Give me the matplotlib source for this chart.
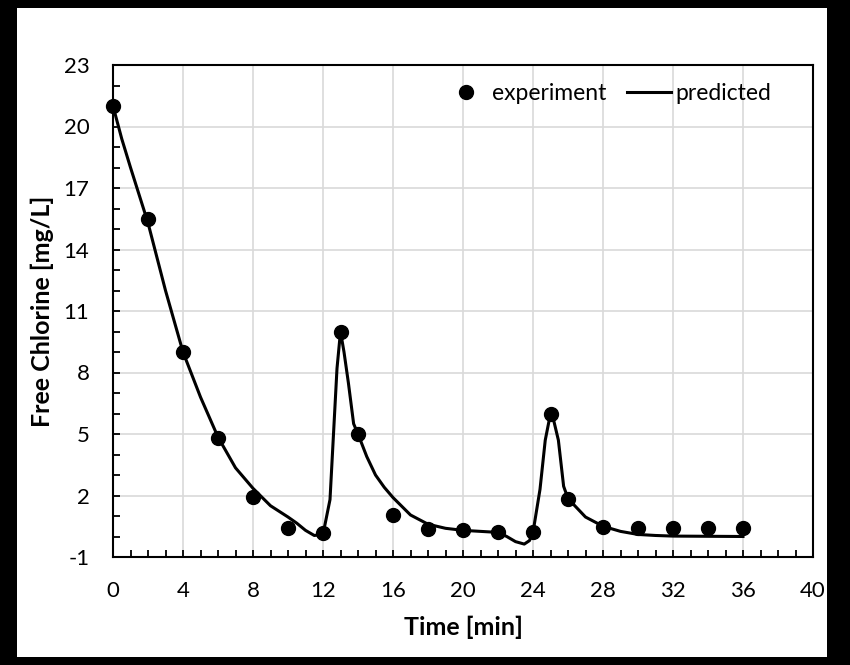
import numpy as np
import matplotlib
matplotlib.use("Agg")
import matplotlib.pyplot as plt
from matplotlib.patches import Rectangle
from matplotlib.ticker import MultipleLocator

plt.rcParams['font.family'] = ['Lato', 'DejaVu Sans']
plt.rcParams['axes.unicode_minus'] = False

# measured free chlorine
exp_time = [0, 2, 4, 6, 8, 10, 12, 13, 14, 16, 18, 20, 22, 24, 25, 26, 28, 30, 32, 34, 36]
exp_cl = [21.0, 15.5, 9.0, 4.8, 1.95, 0.4, 0.15, 10.0, 5.0, 1.05, 0.35, 0.3, 0.23, 0.23,
          6.0, 1.83, 0.48, 0.4, 0.4, 0.4, 0.4]

# model curve
pred_time = [0, 0.5, 1, 2, 3, 4, 5, 6, 7, 8, 9, 10, 10.5, 11, 11.5, 12,
             12.4, 12.6, 12.8, 13, 13.2, 13.45, 13.75, 14, 14.5, 15, 15.5, 16, 17, 18, 19,
             20, 21, 22, 22.5, 23, 23.5, 23.8, 24, 24.4, 24.7, 25, 25.2, 25.45, 25.75, 26,
             27, 28, 29, 30, 31, 32, 36]
pred_cl = [21.0, 19.4, 18.0, 15.3, 12.0, 9.0, 6.8, 4.85, 3.35, 2.35, 1.5, 0.95, 0.65, 0.3, 0.05, 0.1,
           1.8, 5.0, 8.2, 10.0, 9.0, 7.5, 5.5, 5.0, 3.9, 3.0, 2.4, 1.9, 1.05, 0.6, 0.4,
           0.3, 0.25, 0.2, 0.0, -0.25, -0.37, -0.2, 0.2, 2.3, 4.7, 6.0, 5.6, 4.7, 2.45, 1.85,
           0.95, 0.5, 0.25, 0.1, 0.05, 0.02, 0.0]

x_ticks = list(range(0, 41, 4))
y_ticks = list(range(-1, 24, 3))

fig = plt.figure(figsize=(8.5, 6.65), dpi=100)
fig.patch.set_facecolor('black')
# white area inside the thick black frame
W, H = 850, 665
fig.patches.append(Rectangle((17 / W, 8 / H), (827 - 17) / W, (657 - 8) / H,
                             transform=fig.transFigure, facecolor='white',
                             edgecolor='none', zorder=-1))

ax = fig.add_axes([113 / W, 1 - 557 / H, 700 / W, 492 / H])
ax.plot(pred_time, pred_cl, color='black', lw=2.2, label='predicted', zorder=3,
        solid_joinstyle='round')
ax.plot(exp_time, exp_cl, 'o', color='black', ms=10, label='experiment', zorder=4,
        clip_on=False)

ax.set_xlim(0, 40)
ax.set_ylim(-1, 23)
ax.set_xticks(x_ticks)
ax.set_yticks(y_ticks)
ax.xaxis.set_minor_locator(MultipleLocator(1))
ax.yaxis.set_minor_locator(MultipleLocator(1))
ax.tick_params(which='both', direction='in', length=5, width=1.3, top=False, right=False,
               labelsize=16)
ax.tick_params(axis='x', pad=17)
ax.tick_params(axis='y', pad=17)
ax.grid(True, which='major', color='#d9d9d9', lw=1.2)
ax.set_axisbelow(True)
for s in ax.spines.values():
    s.set_linewidth(1.5)

ax.set_xlabel('Time [min]', fontsize=18, fontweight='bold', labelpad=11)
ax.set_ylabel('Free Chlorine [mg/L]', fontsize=18, fontweight='bold', labelpad=7)

h, l = ax.get_legend_handles_labels()
ax.legend(h[::-1], l[::-1], ncol=2, frameon=False, fontsize=16.5, loc='center right',
          bbox_to_anchor=(0.94, 0.943), borderaxespad=0, borderpad=0,
          handlelength=1.9, handletextpad=0.2, columnspacing=0.9)

fig.savefig('out.png', dpi=100, facecolor=fig.get_facecolor())
